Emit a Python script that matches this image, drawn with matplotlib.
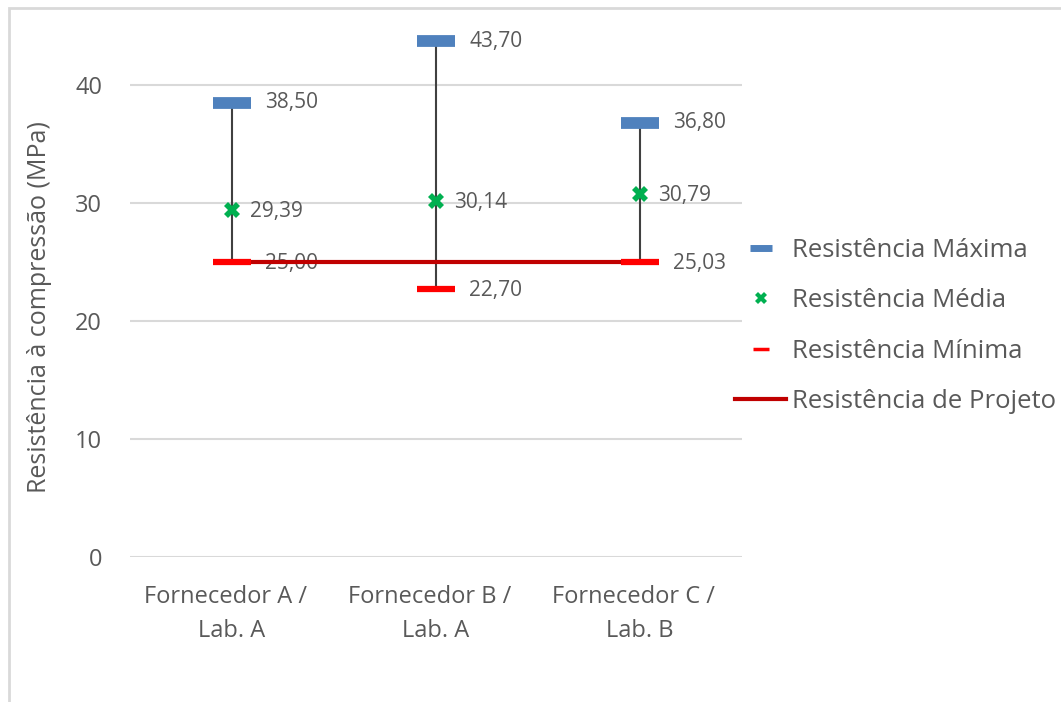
import matplotlib
matplotlib.use("Agg")
import matplotlib.pyplot as plt
from matplotlib.lines import Line2D
from matplotlib.patches import Rectangle

plt.rcParams["font.family"] = ["Open Sans", "DejaVu Sans"]

categories = ["Fornecedor A /  \nLab. A", "Fornecedor B /  \nLab. A", "Fornecedor C /  \nLab. B"]
res_max = [38.50, 43.70, 36.80]
res_mean = [29.39, 30.14, 30.79]
res_min = [25.00, 22.70, 25.03]
res_design = [25.0, 25.0, 25.0]
y_ticks = [0, 10, 20, 30, 40]

TEXT = "#595959"
BLUE = "#4F81BD"
GREEN = "#00B050"
RED = "#FF0000"
DARK_RED = "#C00000"


def fmt(v):
    return f"{v:.2f}".replace(".", ",")


fig = plt.figure(figsize=(10.61, 7.02), dpi=100)
ax = fig.add_axes([130 / 1061, 1 - 557 / 702, 612 / 1061, 531 / 702])

# chart frame
fig.patches.append(Rectangle((9 / 1061, -0.1), 1.1, 1 - 8 / 702 + 0.1,
                             transform=fig.transFigure, fill=False,
                             edgecolor="#D9D9D9", linewidth=2, zorder=0))

x = list(range(len(categories)))

# high-low lines
ax.vlines(x, res_min, res_max, color="#404040", linewidth=1.5, zorder=2)

ax.plot(x, res_design, color=DARK_RED, linewidth=3, zorder=3)
ax.plot(x, res_max, linestyle="none", marker="_", markersize=28,
        markeredgewidth=8.5, color=BLUE, zorder=4)
ax.plot(x, res_min, linestyle="none", marker="_", markersize=28,
        markeredgewidth=4.5, color=RED, zorder=4)
ax.plot(x, res_mean, linestyle="none", marker="X", markersize=11,
        color=GREEN, markeredgewidth=0, zorder=5)

for xi, v in zip(x, res_max):
    ax.annotate(fmt(v), (xi, v), xytext=(24, 0), textcoords="offset points",
                va="center", ha="left", fontsize=15, color=TEXT)
for xi, v in zip(x, res_mean):
    ax.annotate(fmt(v), (xi, v), xytext=(13, -1), textcoords="offset points",
                va="center", ha="left", fontsize=15, color=TEXT)
for xi, v in zip(x, res_min):
    ax.annotate(fmt(v), (xi, v), xytext=(24, -1), textcoords="offset points",
                va="center", ha="left", fontsize=15, color=TEXT, zorder=2)

ax.set_xlim(-0.5, len(categories) - 0.5)
ax.set_ylim(0, 45)
ax.set_yticks(y_ticks)
ax.set_xticks(x)
ax.set_xticklabels(categories, fontsize=17, color=TEXT, linespacing=1.55)
ax.tick_params(axis="y", labelsize=17, labelcolor=TEXT, length=0, pad=20)
ax.tick_params(axis="x", length=0, pad=20)
ax.grid(axis="y", color="#D9D9D9", linewidth=1.5)
ax.set_axisbelow(True)
for s in ax.spines.values():
    s.set_visible(False)

ax.set_ylabel("Resistência à compressão (MPa)", fontsize=18, color=TEXT)
ax.yaxis.set_label_coords(-0.127, 0.47)

handles = [
    Line2D([], [], linestyle="none", marker="_", markersize=16,
           markeredgewidth=5, color=BLUE),
    Line2D([], [], linestyle="none", marker="X", markersize=9,
           markeredgewidth=0, color=GREEN),
    Line2D([], [], linestyle="none", marker="_", markersize=12,
           markeredgewidth=2.5, color=RED),
    Line2D([], [], color=DARK_RED, linewidth=3),
]
labels = ["Resistência Máxima", "Resistência Média", "Resistência Mínima",
          "Resistência de Projeto"]
fig.legend(handles, labels, loc="center left",
           bbox_to_anchor=(735 / 1061, 1 - 326 / 702), frameon=False,
           fontsize=18.5, labelcolor=TEXT, handlelength=2.0, handletextpad=0.2,
           labelspacing=0.98, borderpad=0, borderaxespad=0)

fig.savefig("out.png", dpi=100)
